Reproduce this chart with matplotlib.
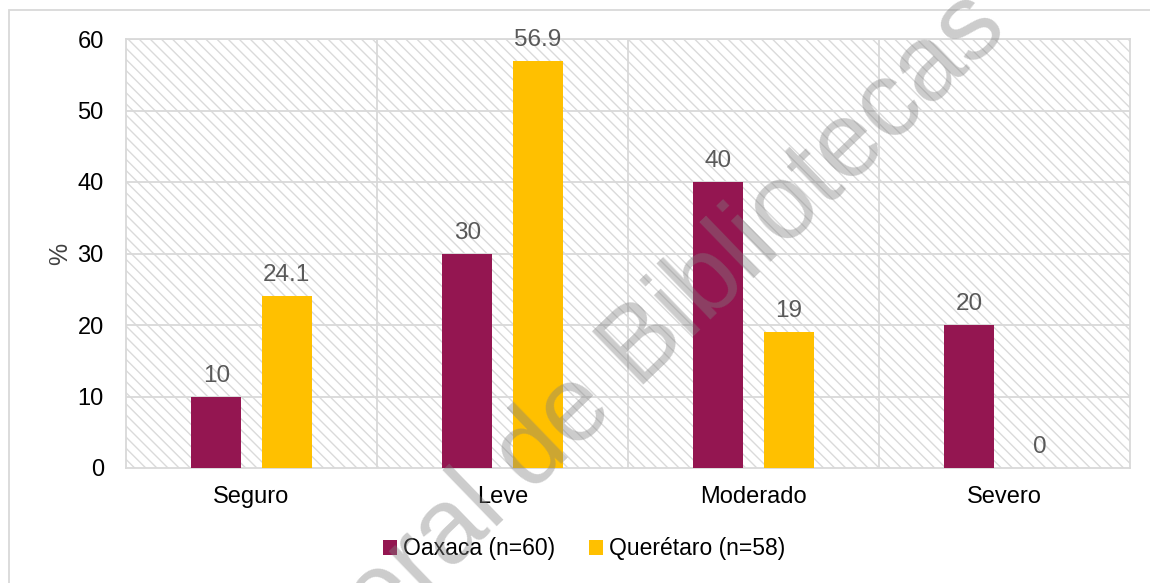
import matplotlib
matplotlib.use("Agg")
import matplotlib.pyplot as plt
from matplotlib.patches import Rectangle
import numpy as np

plt.rcParams['font.family'] = ['Liberation Sans', 'DejaVu Sans']

categories = ["Seguro", "Leve", "Moderado", "Severo"]
oaxaca = [10, 30, 40, 20]
queretaro = [24.1, 56.9, 19, 0]
labels_oax = ["10", "30", "40", "20"]
labels_que = ["24.1", "56.9", "19", "0"]
series_names = ["Oaxaca (n=60)", "Querétaro (n=58)"]
yticks = [0, 10, 20, 30, 40, 50, 60]

c_oax = "#941651"
c_que = "#FFC000"
grid_c = "#d9d9d9"

fig = plt.figure(figsize=(11.5, 5.83), dpi=100)
W, H = 1150, 583
ax = fig.add_axes([126 / W, 1 - 468 / H, (1130 - 126) / W, (468 - 39) / H])

# outer border
fig.patches.append(Rectangle((9 / W, -0.1), 1.2, 1 - 10 / H + 0.1, transform=fig.transFigure,
                             facecolor='none', edgecolor=grid_c, linewidth=1.3, zorder=0))

# hatched background
plt.rcParams['hatch.linewidth'] = 1.0
bg = Rectangle((0, 0), 1, 1, transform=ax.transAxes, facecolor='white',
               edgecolor='#dadada', linewidth=0, hatch='\\' * 3, zorder=0)
ax.add_patch(bg)

x = np.arange(len(categories))
bw = 0.2
off = 0.14
b1 = ax.bar(x - off, oaxaca, bw, color=c_oax, zorder=3, label=series_names[0])
b2 = ax.bar(x + off, queretaro, bw, color=c_que, zorder=3, label=series_names[1])

for xi, v, t in zip(x - off, oaxaca, labels_oax):
    ax.annotate(t, (xi, v), xytext=(0, 7), textcoords='offset points', ha='center', va='bottom',
                fontsize=17.5, color='#595959', zorder=4)
for xi, v, t in zip(x + off, queretaro, labels_que):
    ax.annotate(t, (xi, v), xytext=(0, 7), textcoords='offset points', ha='center', va='bottom',
                fontsize=17.5, color='#595959', zorder=4)

ax.set_xlim(-0.5, len(categories) - 0.5)
ax.set_ylim(0, 60)
ax.set_yticks(yticks)
ax.set_xticks(x)
ax.set_xticklabels(categories)
ax.tick_params(axis='both', length=0, labelsize=17, colors='black')
ax.tick_params(axis='y', pad=16)
ax.tick_params(axis='x', pad=13)

for yv in yticks[1:]:
    ax.axhline(yv, color=grid_c, linewidth=1.3, zorder=1)
for xv in np.arange(0.5, len(categories) - 0.5, 1):
    ax.axvline(xv, color=grid_c, linewidth=1.3, zorder=1)
for s in ax.spines.values():
    s.set_color(grid_c)
    s.set_linewidth(1.3)

ax.set_ylabel("%", fontsize=18, color='#404040', labelpad=4)

leg = fig.legend(handles=[b1, b2], labels=series_names, loc='center', bbox_to_anchor=(584 / W, 1 - 549 / H),
                 ncol=2, frameon=False, fontsize=16.5, handlelength=0.65, handleheight=0.65,
                 handletextpad=0.25, columnspacing=1.45)

# watermark
fig.text(1010 / W, 1 - 31 / H, "Dirección General de Bibliotecas", rotation=44, rotation_mode='anchor',
         ha='right', va='baseline', fontsize=77, color='#808080', alpha=0.4, zorder=10,
         transform=fig.transFigure)

fig.savefig("out.png", dpi=100)
